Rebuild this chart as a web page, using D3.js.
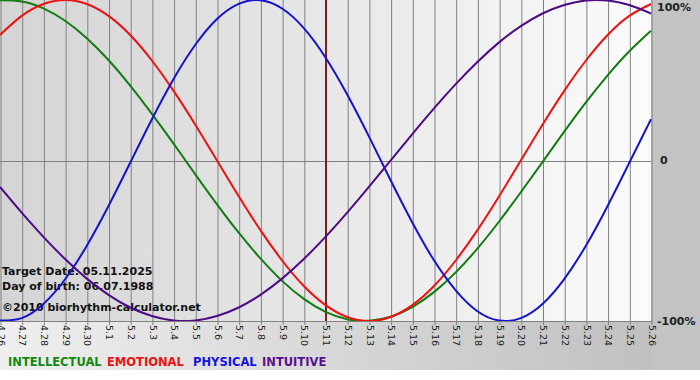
<!DOCTYPE html>
<html>
<head>
<meta charset="utf-8">
<script src="https://cdnjs.cloudflare.com/ajax/libs/d3/7.8.5/d3.min.js"></script>
<style>
  html, body { margin: 0; padding: 0; background: #fff; }
  svg { display: block; }
  text { font-family: "DejaVu Sans", Verdana, sans-serif; }
</style>
</head>
<body>
<div id="chart"></div>
<script>
// Day labels along the bottom (month.day)
const days = ['4.26', '4.27', '4.28', '4.29', '4.30', '5.1', '5.2', '5.3', '5.4', '5.5',
  '5.6', '5.7', '5.8', '5.9', '5.10', '5.11', '5.12', '5.13', '5.14', '5.15', '5.16',
  '5.17', '5.18', '5.19', '5.20', '5.21', '5.22', '5.23', '5.24', '5.25', '5.26'];

// Curve values in percent, one per day
const intellectual = [99.8, 99.1, 94.8, 87.1, 76.2, 62.6, 46.7, 29.1, 10.5, -8.6, -27.3,
  -45.0, -61.0, -75.0, -86.2, -94.3, -98.9, -99.9, -97.4, -91.3, -82.0, -69.7, -54.9,
  -38.0, -19.8, -1.0, 18.0, 36.2, 53.1, 68.1, 80.9];
const emotional = [78.2, 90.1, 97.5, 100, 97.5, 90.1, 78.2, 62.3, 43.4, 22.3, 0, -22.3,
  -43.4, -62.3, -78.2, -90.1, -97.5, -100, -97.5, -90.1, -78.2, -62.3, -43.4, -22.3, 0,
  22.3, 43.4, 62.3, 78.2, 90.1, 97.5];
const physical = [-99.7, -98.2, -89.4, -74.0, -53.1, -28.3, -1.4, 25.7, 50.8, 72.1, 88.2,
  97.6, 99.9, 94.7, 82.5, 64.2, 41.1, 15.0, -12.3, -38.6, -62.2, -80.9, -93.9, -99.7,
  -98.2, -89.4, -73.9, -53.1, -28.3, -1.4, 25.7];
const intuitive = [-16.5, -32.5, -47.6, -61.4, -73.6, -83.7, -91.6, -96.9, -99.7, -99.7,
  -96.9, -91.6, -83.7, -73.6, -61.4, -47.6, -32.5, -16.5, 0, 16.5, 32.5, 47.6, 61.4, 73.6,
  83.7, 91.6, 96.9, 99.7, 99.7, 96.9, 91.6];

const seriesNames = ['INTELLECTUAL', 'EMOTIONAL', 'PHYSICAL', 'INTUITIVE'];
const yTickLabels = ['100%', '0', '-100%'];
const yTickValues = [100, 0, -100];
const targetIndex = 15;
const infoLines = ['Target Date: 05.11.2025', 'Day of birth: 06.07.1988'];
const copyright = '\u00a92010 biorhythm-calculator.net';

const width = 700, height = 380;
const plotW = 651, plotH = 321;

const svg = d3.select('#chart').append('svg')
  .attr('width', width)
  .attr('height', height);

const defs = svg.append('defs');
const plotGrad = defs.append('linearGradient').attr('id', 'plotGrad')
  .attr('x1', '0%').attr('x2', '100%').attr('y1', '0%').attr('y2', '0%');
plotGrad.append('stop').attr('offset', '0%').attr('stop-color', '#d4d4d4');
plotGrad.append('stop').attr('offset', '100%').attr('stop-color', '#fbfbfb');

const bottomGrad = defs.append('linearGradient').attr('id', 'bottomGrad')
  .attr('x1', '0%').attr('x2', '100%').attr('y1', '0%').attr('y2', '0%');
bottomGrad.append('stop').attr('offset', '0%').attr('stop-color', '#efefef');
bottomGrad.append('stop').attr('offset', '100%').attr('stop-color', '#bdbdbd');

defs.append('clipPath').attr('id', 'plotClip')
  .append('rect').attr('width', plotW + 1).attr('height', plotH);

// backgrounds
svg.append('rect').attr('x', 0).attr('y', 0).attr('width', width).attr('height', 370)
  .attr('fill', 'url(#bottomGrad)');
svg.append('rect').attr('x', plotW).attr('y', 0).attr('width', width - plotW).attr('height', 370)
  .attr('fill', '#c3c3c3');
svg.append('rect').attr('x', 0).attr('y', 0).attr('width', plotW).attr('height', plotH)
  .attr('fill', 'url(#plotGrad)');

const x = d3.scaleLinear().domain([0, days.length - 1]).range([0, plotW]);
const y = d3.scaleLinear().domain([-100, 100]).range([plotH, 0]);

// vertical grid lines + ticks
const xAxis = d3.axisBottom(x)
  .tickValues(d3.range(days.length))
  .tickFormat(i => days[i])
  .tickSize(plotH + 4)
  .tickSizeOuter(0);

const gx = svg.append('g').attr('transform', 'translate(0.5,0)').call(xAxis);
gx.select('.domain').remove();
gx.selectAll('.tick line').attr('stroke', '#808080');
gx.selectAll('.tick text')
  .attr('transform', 'rotate(90)')
  .attr('x', plotH + 4)
  .attr('y', 0)
  .attr('dy', '0.35em')
  .attr('text-anchor', 'start')
  .attr('fill', '#1a1a1a')
  .style('font-size', '9.5px')
  .style('font-family', '"DejaVu Sans", Verdana, sans-serif');

// horizontal midline and bottom line
svg.append('line').attr('x1', 0).attr('x2', plotW)
  .attr('y1', Math.round(y(0)) + 0.5).attr('y2', Math.round(y(0)) + 0.5)
  .attr('stroke', '#808080');
svg.append('line').attr('x1', 0).attr('x2', plotW + 1)
  .attr('y1', plotH + 0.5).attr('y2', plotH + 0.5)
  .attr('stroke', '#808080');

// right side labels
svg.append('g').selectAll('text').data(yTickValues).join('text')
  .attr('x', (d, i) => i === 1 ? plotW + 9 : plotW + 6)
  .attr('y', d => Math.min(Math.max(y(d), 7), plotH))
  .attr('dy', '0.35em')
  .attr('font-size', '11px')
  .attr('font-weight', 'bold')
  .attr('fill', '#222')
  .text((d, i) => yTickLabels[i]);

// info text
svg.append('g').selectAll('text').data(infoLines).join('text')
  .attr('x', 2)
  .attr('y', (d, i) => 275 + i * 15)
  .attr('font-size', '11px')
  .attr('font-weight', 'bold')
  .attr('fill', '#111')
  .text(d => d);
svg.append('text')
  .attr('x', 2).attr('y', 311)
  .attr('font-size', '11px')
  .attr('font-weight', 'bold')
  .attr('fill', '#111')
  .text(copyright);

// target day line
svg.append('line')
  .attr('x1', x(targetIndex) + 0.5).attr('x2', x(targetIndex) + 0.5)
  .attr('y1', 0).attr('y2', plotH)
  .attr('stroke', '#7a1f1f').attr('stroke-width', 2);

// curves
const series = [
  { name: seriesNames[0], values: intellectual, color: '#127c12' },
  { name: seriesNames[1], values: emotional, color: '#ee1111' },
  { name: seriesNames[2], values: physical, color: '#1414cc' },
  { name: seriesNames[3], values: intuitive, color: '#4d0c86' }
];

const line = d3.line()
  .x((d, i) => x(i))
  .y(d => y(d))
  .curve(d3.curveNatural);

svg.append('g').attr('clip-path', 'url(#plotClip)')
  .selectAll('path').data(series).join('path')
  .attr('d', d => line(d.values))
  .attr('fill', 'none')
  .attr('stroke', d => d.color)
  .attr('stroke-width', 2);

// legend
const legendColors = ['#118a11', '#ee1111', '#1414dd', '#5a0f8f'];
const legendX = [8, 107, 193, 262];
svg.append('g').selectAll('text').data(seriesNames).join('text')
  .attr('x', (d, i) => legendX[i])
  .attr('y', 366)
  .attr('font-size', '11.5px')
  .attr('font-weight', 'bold')
  .attr('fill', (d, i) => legendColors[i])
  .text(d => d);
</script>
</body>
</html>
